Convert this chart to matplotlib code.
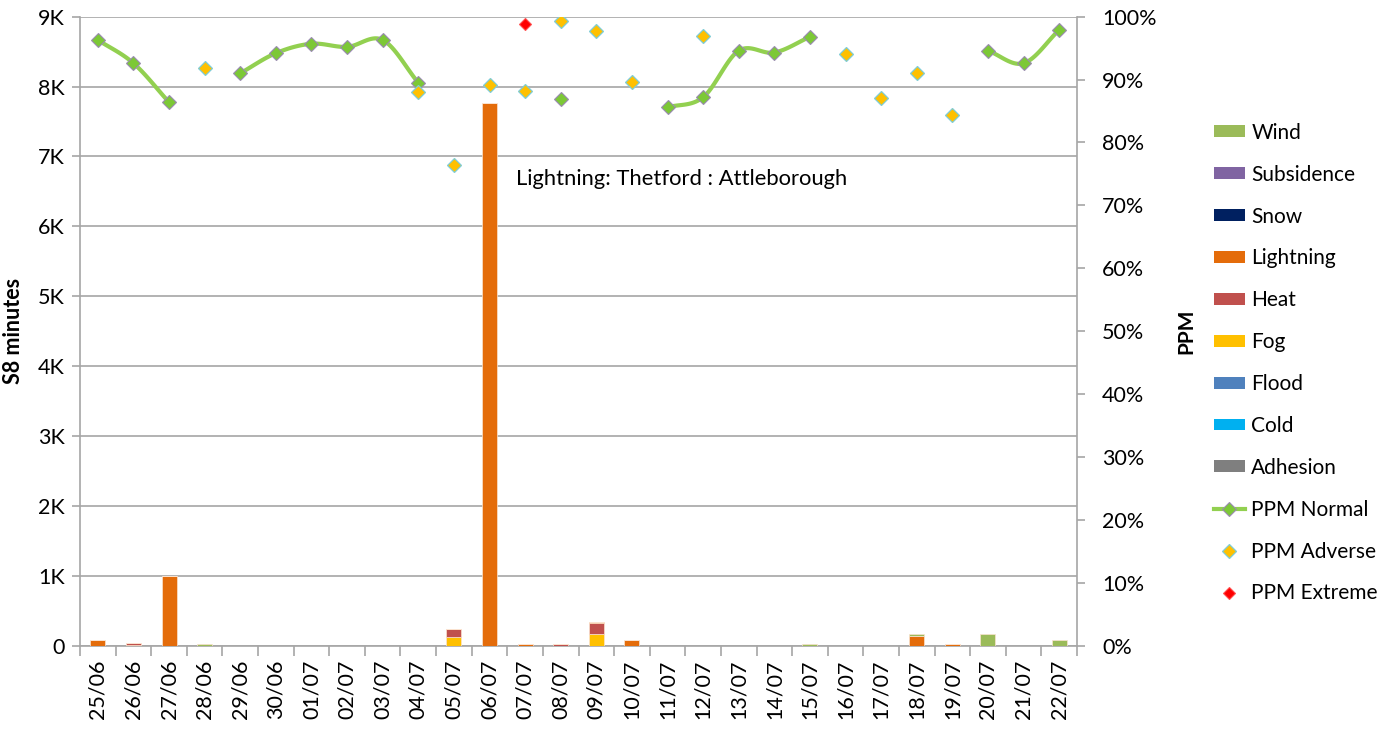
import numpy as np
import matplotlib.pyplot as plt
from matplotlib.patches import Patch
from matplotlib.lines import Line2D
from matplotlib.ticker import FuncFormatter, FixedLocator

plt.rcParams['font.family'] = ['Lato', 'DejaVu Sans']

dates = ['25/06', '26/06', '27/06', '28/06', '29/06', '30/06', '01/07',
         '02/07', '03/07', '04/07', '05/07', '06/07', '07/07', '08/07',
         '09/07', '10/07', '11/07', '12/07', '13/07', '14/07', '15/07',
         '16/07', '17/07', '18/07', '19/07', '20/07', '21/07', '22/07']

# S8 minutes per cause (stacked bottom -> top)
adhesion = [0] * 28
cold = [0] * 28
flood = [0] * 28
fog = [0, 15, 0, 0, 0, 0, 0, 0, 0, 0, 120, 0, 0, 0, 160, 0, 0, 0, 0, 0, 0, 0, 0, 0, 0, 0, 0, 0]
heat = [0, 25, 0, 0, 0, 0, 0, 0, 0, 0, 120, 0, 0, 20, 165, 0, 0, 0, 0, 0, 0, 0, 0, 0, 0, 0, 0, 0]
lightning = [85, 0, 990, 0, 0, 0, 0, 0, 0, 0, 0, 7760, 20, 0, 15, 85, 0, 0, 0, 0, 0, 0, 0, 140, 20, 0, 0, 0]
snow = [0] * 28
subsidence = [0] * 28
wind = [0, 0, 10, 20, 0, 0, 0, 0, 0, 0, 0, 0, 0, 0, 0, 0, 0, 0, 0, 0, 25, 0, 0, 20, 0, 160, 0, 80]

# PPM (%), None = no value that day
ppm_normal = [96.3, 92.6, 86.4, None, 91.0, 94.2, 95.7, 95.2, 96.3, 89.5, None, None, None, 86.9,
              None, None, 85.6, 87.2, 94.6, 94.3, 96.8, None, None, None, None, 94.6, 92.6, 97.9]
ppm_adverse = [None, None, None, 91.9, None, None, None, None, None, 88.1, 76.4, 89.1, 88.2, 99.3,
               97.7, 89.6, None, 97.0, None, None, None, 94.0, 87.0, 91.1, 84.4, None, None, None]
ppm_extreme = [None] * 12 + [98.9] + [None] * 15

causes = [
    ('Adhesion', adhesion, '#7F7F7F'),
    ('Cold', cold, '#00B0F0'),
    ('Flood', flood, '#4F81BD'),
    ('Fog', fog, '#FFC000'),
    ('Heat', heat, '#C0504D'),
    ('Lightning', lightning, '#E46C0A'),
    ('Snow', snow, '#002060'),
    ('Subsidence', subsidence, '#8064A2'),
    ('Wind', wind, '#9BBB59'),
]

GRID = '#A6A6A6'
FS = 15.5


def catmull_rom(xs, ys, n=20):
    # smooth curve through the points, like Excel's smoothed line
    xs = np.asarray(xs, float)
    ys = np.asarray(ys, float)
    px = np.concatenate([[2 * xs[0] - xs[1]], xs, [2 * xs[-1] - xs[-2]]])
    py = np.concatenate([[2 * ys[0] - ys[1]], ys, [2 * ys[-1] - ys[-2]]])
    outx, outy = [], []
    t = np.linspace(0, 1, n)
    for i in range(1, len(px) - 2):
        for p, out in ((px, outx), (py, outy)):
            p0, p1, p2, p3 = p[i - 1], p[i], p[i + 1], p[i + 2]
            out.extend(0.5 * ((2 * p1) + (-p0 + p2) * t +
                              (2 * p0 - 5 * p1 + 4 * p2 - p3) * t ** 2 +
                              (-p0 + 3 * p1 - 3 * p2 + p3) * t ** 3))
    return np.array(outx), np.array(outy)


fig = plt.figure(figsize=(13.92, 7.29), dpi=100)
ax = fig.add_axes([0.0575, 0.1143, 0.7162, 0.8628])
x = np.arange(len(dates))

bottom = np.zeros(len(dates))
for name, vals, col in causes:
    vals = np.array(vals, float)
    ax.bar(x, vals, 0.42, bottom=bottom, color=col, edgecolor='#FBE3D0',
           linewidth=0.5, zorder=3)
    bottom += vals

ax.set_xlim(-0.5, len(dates) - 0.5)
ax.set_ylim(0, 9000)
ax.set_yticks(np.arange(0, 9001, 1000))
ax.yaxis.set_major_formatter(FuncFormatter(lambda v, p: '0' if v == 0 else '%dK' % (v / 1000)))
ax.grid(axis='y', color=GRID, linewidth=1.2, zorder=0)
ax.set_xticks(x)
ax.set_xticklabels(dates, rotation=90)
ax.xaxis.set_minor_locator(FixedLocator(np.arange(-0.5, len(dates), 1)))
ax.tick_params(axis='x', which='major', length=0, labelsize=FS, pad=10)
ax.tick_params(axis='x', which='minor', length=7, color=GRID, width=1.2)
ax.tick_params(axis='y', length=6, color=GRID, width=1.2, labelsize=FS, pad=5)
for s in ('top', 'right'):
    ax.spines[s].set_visible(False)
for s in ('left', 'bottom'):
    ax.spines[s].set_color(GRID)
    ax.spines[s].set_linewidth(1.2)
ax.set_ylabel('S8 minutes', fontsize=15.5, fontweight='bold', labelpad=10)

ax.text(11.75, 6680, 'Lightning: Thetford : Attleborough', fontsize=15.8, va='center', zorder=5)

ax2 = ax.twinx()
ax2.set_ylim(0, 100)
ax2.set_yticks(np.arange(0, 101, 10))
ax2.yaxis.set_major_formatter(FuncFormatter(lambda v, p: '%d%%' % v))
ax2.tick_params(axis='y', length=6, color=GRID, width=1.2, labelsize=FS, pad=12)
for s in ('top', 'left', 'bottom'):
    ax2.spines[s].set_visible(False)
ax2.spines['right'].set_color(GRID)
ax2.spines['right'].set_linewidth(1.2)
ax2.set_ylabel('PPM', fontsize=15, fontweight='bold', labelpad=14)

# normal PPM: smoothed line through each run of consecutive values
run = []
for i, v in enumerate(ppm_normal + [None]):
    if v is not None:
        run.append(i)
        continue
    if len(run) > 1:
        sx, sy = catmull_rom(run, [ppm_normal[k] for k in run])
        ax2.plot(sx, sy, color='#92D050', linewidth=3, zorder=3, solid_capstyle='round')
    run = []

normal_style = dict(marker='D', markersize=7.5, markerfacecolor='#7CC836',
                    markeredgecolor='#9A8CB0', markeredgewidth=0.8)
adverse_style = dict(marker='D', markersize=7.5, markerfacecolor='#FFC000',
                     markeredgecolor='#7FCDD8', markeredgewidth=0.9)
extreme_style = dict(marker='D', markersize=6, markerfacecolor='#FF0000',
                     markeredgecolor='#FF5050', markeredgewidth=0.8)

nx = [i for i, v in enumerate(ppm_normal) if v is not None]
ax2.plot(nx, [ppm_normal[i] for i in nx], linestyle='none', zorder=4, **normal_style)
axx = [i for i, v in enumerate(ppm_adverse) if v is not None]
ax2.plot(axx, [ppm_adverse[i] for i in axx], linestyle='none', zorder=4, **adverse_style)
ex = [i for i, v in enumerate(ppm_extreme) if v is not None]
ax2.plot(ex, [ppm_extreme[i] for i in ex], linestyle='none', zorder=4, **extreme_style)

handles = [Patch(facecolor=col, label=name) for name, vals, col in reversed(causes)]
handles.append(Line2D([], [], color='#92D050', linewidth=3, label='PPM Normal', **normal_style))
handles.append(Line2D([], [], linestyle='none', label='PPM Adverse', **adverse_style))
handles.append(Line2D([], [], linestyle='none', label='PPM Extreme', **extreme_style))
fig.legend(handles=handles, loc='upper left', bbox_to_anchor=(0.866, 0.843), frameon=False,
           fontsize=15, labelspacing=1.05, handlelength=1.5, handleheight=0.5,
           handletextpad=0.3, borderaxespad=0)

fig.savefig('out.png', dpi=100)
